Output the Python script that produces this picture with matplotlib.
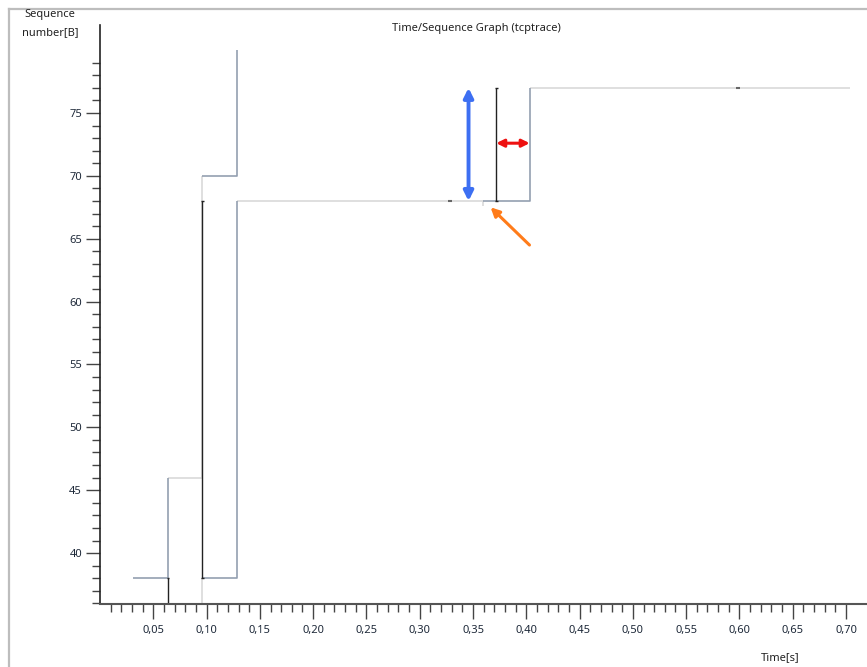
import matplotlib
matplotlib.use("Agg")
import matplotlib.pyplot as plt
from matplotlib.lines import Line2D
from matplotlib.ticker import FixedLocator, FuncFormatter

plt.rcParams['font.family'] = ['Noto Sans', 'DejaVu Sans']

# ---- data (time [s], sequence number [B]) ----
# ACK step line (grey-blue)
ack1_t = [0.031, 0.064, 0.064]
ack1_seq = [38, 38, 46]
ack2_t = [0.096, 0.1285, 0.1285]
ack2_seq = [38, 38, 68]
ack3_t = [0.096, 0.1285, 0.1285]
ack3_seq = [70, 70, 80]
ack4_t = [0.3598, 0.4032, 0.4032]
ack4_seq = [68, 68, 77]

# receive window line (light grey)
win1_t = [0.064, 0.096, 0.096]
win1_seq = [46, 46, 70]
win2_t = [0.096, 0.096]
win2_seq = [35.5, 38]
win3_t = [0.1285, 0.3598, 0.3598]
win3_seq = [68, 68, 67.6]
win4_t = [0.4032, 0.7035]
win4_seq = [77, 77]

# data segments (black I-bars)
seg_t = [0.064, 0.096, 0.3718]
seg_start = [35.5, 38, 68]
seg_end = [38, 68, 77]

# small marks
mark_t = [0.3286, 0.599]
mark_seq = [68, 77]

# annotations
blue_t = 0.3458
blue_seq = [68, 77]
red_seq = 72.6
red_t = [0.3718, 0.4032]
orange_from = (0.403, 64.5)
orange_to = (0.3665, 67.5)

x_major = [0.05, 0.10, 0.15, 0.20, 0.25, 0.30, 0.35, 0.40, 0.45, 0.50, 0.55, 0.60, 0.65, 0.70]
y_major = [40, 45, 50, 55, 60, 65, 70, 75]

W, H = 867, 667
fig = plt.figure(figsize=(W / 100, H / 100), dpi=100)
ax = fig.add_axes([100 / W, (H - 604) / H, (W - 100) / W, (604 - 25) / H])

ACK = '#939fb0'
WIN = '#dcdcdc'
SEG = '#222222'

for t, s in [(win1_t, win1_seq), (win2_t, win2_seq), (win3_t, win3_seq), (win4_t, win4_seq)]:
    ax.plot(t, s, color=WIN, lw=1.3, solid_capstyle='butt')
for t, s in [(ack1_t, ack1_seq), (ack2_t, ack2_seq), (ack3_t, ack3_seq), (ack4_t, ack4_seq)]:
    ax.plot(t, s, color=ACK, lw=1.2, solid_capstyle='butt')
ax.vlines(seg_t, seg_start, seg_end, color=SEG, lw=1.0)
cap = 0.0012
ax.hlines(seg_end, [t - cap for t in seg_t], [t + cap for t in seg_t], color=SEG, lw=1.0)
ax.hlines(seg_start[1:], [t - cap for t in seg_t[1:]], [t + cap for t in seg_t[1:]], color=SEG, lw=1.0)
ax.plot(mark_t, mark_seq, ls='none', marker='_', ms=3, mew=1.5, color='#666666')

ax.annotate('', xy=(blue_t, blue_seq[1]), xytext=(blue_t, blue_seq[0]),
            arrowprops=dict(arrowstyle='<|-|>', color='#3d6ff2', lw=2.8,
                            mutation_scale=14, shrinkA=0, shrinkB=0))
ax.annotate('', xy=(red_t[1], red_seq), xytext=(red_t[0], red_seq),
            arrowprops=dict(arrowstyle='<|-|>', color='#ee1111', lw=2.2,
                            mutation_scale=11, shrinkA=0, shrinkB=0))
ax.annotate('', xy=orange_to, xytext=orange_from,
            arrowprops=dict(arrowstyle='-|>', color='#ff7c1a', lw=2.2,
                            mutation_scale=13, shrinkA=0, shrinkB=0))

ax.set_xlim(0, 0.7197)
ax.set_ylim(35.95, 82)
for side in ['top', 'right']:
    ax.spines[side].set_visible(False)
ax.spines['left'].set_color('#222222')
ax.spines['left'].set_linewidth(1.2)
ax.spines['bottom'].set_color('#555555')
ax.spines['bottom'].set_linewidth(1.5)

ax.xaxis.set_major_locator(FixedLocator(x_major))
ax.xaxis.set_minor_locator(FixedLocator([i / 100 for i in range(1, 71)]))
ax.yaxis.set_major_locator(FixedLocator(y_major))
ax.yaxis.set_minor_locator(FixedLocator(list(range(36, 80))))
ax.xaxis.set_major_formatter(FuncFormatter(lambda v, p: f"{v:.2f}".replace('.', ',')))
ax.yaxis.set_major_formatter(FuncFormatter(lambda v, p: f"{v:.0f}"))
ax.tick_params(axis='x', which='major', length=11, width=1.0, color='#444444', pad=4, labelsize=8, labelcolor='#1f2a3a')
ax.tick_params(axis='x', which='minor', length=5.5, width=1.0, color='#444444')
ax.tick_params(axis='y', which='major', length=10, width=1.0, color='#444444', pad=3, labelsize=8, labelcolor='#1f2a3a')
ax.tick_params(axis='y', which='minor', length=5.5, width=1.0, color='#444444')

fig.text(476 / W, 1 - 28 / H, 'Time/Sequence Graph (tcptrace)', ha='center', va='center', fontsize=8, color='#222222')
fig.text(50 / W, 1 - 15 / H, 'Sequence', ha='center', va='center', fontsize=8, color='#222222')
fig.text(50 / W, 1 - 33 / H, 'number[B]', ha='center', va='center', fontsize=8, color='#222222')
fig.text(780 / W, 1 - 658 / H, 'Time[s]', ha='center', va='center', fontsize=8, color='#222222')

fig.add_artist(Line2D([8.5 / W, 8.5 / W], [0, 1 - 8.5 / H], transform=fig.transFigure, color='#bdbdbd', lw=1.6))
fig.add_artist(Line2D([8.5 / W, 1], [1 - 8.5 / H, 1 - 8.5 / H], transform=fig.transFigure, color='#bdbdbd', lw=1.6))

fig.savefig('out.png', dpi=100)
